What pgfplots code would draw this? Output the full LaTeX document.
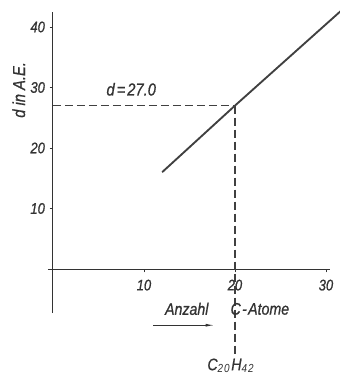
\documentclass[border=0pt]{standalone}
\usepackage{fontspec}
\setmainfont{Liberation Sans}[FakeStretch=0.85]
\newfontfamily\lab{Liberation Sans}[FakeStretch=0.85, FakeBold=0.8]
\usepackage{pgfplots}
\pgfplotsset{compat=1.18}
\usetikzlibrary{arrows.meta}
\begin{document}
\begin{tikzpicture}
\begin{axis}[
  x=6.825pt, y=4.5375pt,
  xmin=-0.55, xmax=30.4, ymin=-7.3, ymax=42.5,
  axis lines=middle,
  axis line style={-, black!80, line width=0.7pt},
  xtick={10,20,30}, ytick={10,20,30,40},
  tick align=outside, major tick length=2.5pt,
  tick style={black!80, line width=0.6pt},
  /pgf/number format/assume math mode=true,
  ticklabel style={font=\lab\fontsize{11.5}{13}\selectfont\itshape, text=black!80},
  xticklabel style={yshift=-2pt},
  yticklabel style={xshift=0pt},
  clip=false,
]
\addplot[black!75, line width=1.4pt] coordinates {(12,16) (20,27) (31.6,42.6)};
\addplot[black!75, line width=0.9pt, dash pattern=on 6pt off 3pt] coordinates {(0,27) (20,27)};
\addplot[black!75, line width=0.9pt, dash pattern=on 6pt off 3pt] coordinates {(20,27) (20,-14.2)};
\node[font=\lab\fontsize{13}{15}\selectfont\itshape, text=black!80] at (axis cs:8.6,29.7) {d\kern1.5pt=\kern1.5pt27.0};
\node[font=\lab\fontsize{13}{15}\selectfont\itshape, text=black!80, rotate=90] at (axis cs:-3.75,29.6) {d in A.E.};
\node[font=\lab\fontsize{12.5}{14}\selectfont\itshape, text=black!80, anchor=east] at (axis cs:17.6,-6.6) {Anzahl};
\node[font=\lab\fontsize{12.5}{14}\selectfont\itshape, text=black!80, anchor=west] at (axis cs:19.0,-6.6) {C\kern1pt-\kern1ptAtome};
\draw[black!80, line width=0.8pt, -{Latex[length=7pt,width=2.2pt]}] (axis cs:11.0,-9.3) -- (axis cs:17.8,-9.3);
\node[font=\lab\fontsize{12.5}{14}\selectfont\itshape, text=black!80] at (axis cs:19.6,-16.0) {C$_{\mathit{20}}$H$_{\mathit{42}}$};
\coordinate (bbA) at (axis cs:-5.82,44.46);
\coordinate (bbB) at (axis cs:31.54,-17.36);
\end{axis}
\pgfresetboundingbox
\path[use as bounding box] (bbA) rectangle (bbB);
\end{tikzpicture}
\end{document}
